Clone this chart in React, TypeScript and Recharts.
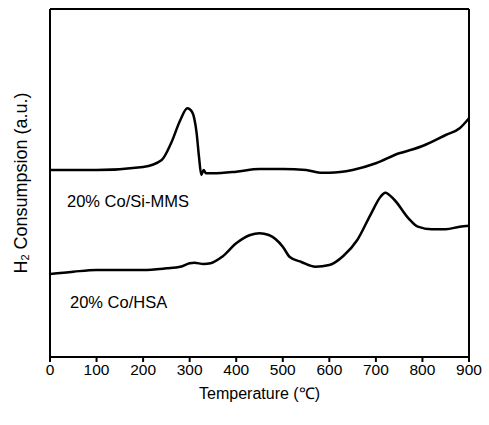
import React from "react";
import { LineChart, Line, XAxis, YAxis, ReferenceLine } from "recharts";

// 20% Co/Si-MMS trace
const siTemp = [0, 100, 200, 240, 260, 280, 295, 305, 315, 320, 325, 330, 335, 350, 400, 450, 500, 550, 580, 600, 650, 700, 750, 780, 800, 850, 880, 900];
const siValue = [187, 187, 190, 197, 213.7, 237, 248.7, 245.3, 223.7, 200.3, 182, 187, 183.7, 183.7, 185.3, 188, 188, 187, 184.3, 184.3, 187, 193.7, 203.7, 207.7, 211, 222, 228.7, 238.7];

// 20% Co/HSA trace
const hsaTemp = [0, 50, 100, 200, 250, 280, 300, 310, 330, 345, 370, 400, 430, 450, 470, 500, 515, 540, 570, 600, 630, 660, 690, 710, 720, 740, 770, 790, 820, 850, 880, 900];
const hsaValue = [83, 85.3, 87, 87, 88.7, 90.3, 93.7, 94.3, 93, 93.7, 100.3, 113.7, 122, 123.7, 122, 110.3, 100, 95, 90.3, 92, 101, 117, 143.7, 160.3, 164.3, 157, 138.7, 130.3, 127.7, 127.7, 130.3, 131.3];

const xTicks = [0, 100, 200, 300, 400, 500, 600, 700, 800, 900];
const seriesLabels = ["20% Co/Si-MMS", "20% Co/HSA"];

const siData = siTemp.map((t, i) => ({ t, v: siValue[i] }));
const hsaData = hsaTemp.map((t, i) => ({ t, v: hsaValue[i] }));

const font = "'Liberation Sans', Arial, sans-serif";

const YTitle = (props: any) => {
  const { viewBox } = props;
  const cx = 21;
  const cy = viewBox.y + viewBox.height / 2;
  return (
    <text x={cx} y={cy} transform={`rotate(-90 ${cx} ${cy})`} textAnchor="middle" dominantBaseline="central" fontSize={18} fill="#000" fontFamily={font}>
      H<tspan fontSize={11} dy={4}>2</tspan><tspan dy={-4}> Consumpsion (a.u.)</tspan>
    </text>
  );
};

export default function App() {
  return (
    <div style={{ position: "absolute", left: 0, top: 0, width: 489, height: 425, background: "#fff", fontFamily: font }}>
      <LineChart width={489} height={425} margin={{ top: 9, right: 20, left: 0, bottom: 0 }}>
        <XAxis
          dataKey="t"
          type="number"
          domain={[0, 900]}
          ticks={xTicks}
          allowDuplicatedCategory={false}
          height={68}
          stroke="#000"
          strokeWidth={2}
          tickSize={5}
          tick={{ fontSize: 15.5, fill: "#000", fontFamily: font }}
          label={{ value: "Temperature (℃)", position: "insideBottom", offset: 26, fontSize: 16, fill: "#000", fontFamily: font }}
        />
        <YAxis
          type="number"
          domain={[0, 348]}
          width={50}
          tick={false}
          tickLine={false}
          stroke="#000"
          strokeWidth={2}
          label={<YTitle />}
        />
        <ReferenceLine y={348} stroke="#000" strokeWidth={2} />
        <ReferenceLine x={900} stroke="#000" strokeWidth={2} />
        <Line data={siData} dataKey="v" type="monotone" stroke="#000" strokeWidth={2.5} dot={false} isAnimationActive={false} />
        <Line data={hsaData} dataKey="v" type="monotone" stroke="#000" strokeWidth={2.5} dot={false} isAnimationActive={false} />
      </LineChart>
      <div style={{ position: "absolute", left: 67, top: 192, fontSize: 16.5, color: "#000" }}>{seriesLabels[0]}</div>
      <div style={{ position: "absolute", left: 70, top: 293, fontSize: 16.5, color: "#000" }}>{seriesLabels[1]}</div>
    </div>
  );
}
